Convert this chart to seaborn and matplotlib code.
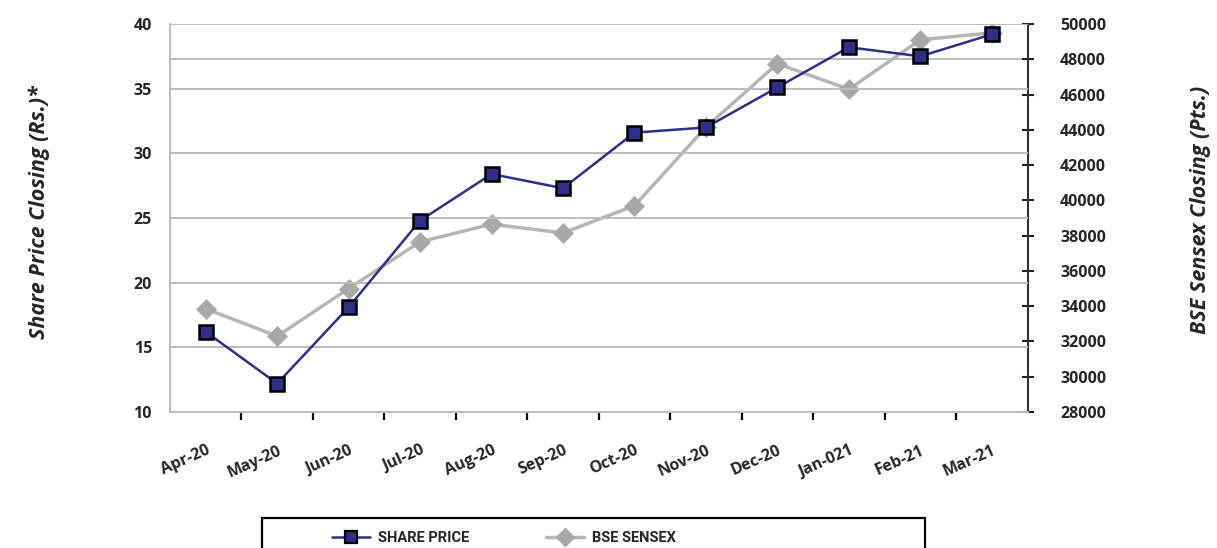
import numpy as np
import pandas as pd
import matplotlib
matplotlib.use("Agg")
import matplotlib.pyplot as plt
from matplotlib.patches import Rectangle
from matplotlib.lines import Line2D
import seaborn as sns

# data
months = ["Apr-20", "May-20", "Jun-20", "Jul-20", "Aug-20", "Sep-20",
          "Oct-20", "Nov-20", "Dec-20", "Jan-021", "Feb-21", "Mar-21"]
share_price = [16.2, 12.2, 18.1, 24.8, 28.4, 27.3, 31.6, 32.0, 35.1, 38.2, 37.5, 39.2]
bse_sensex = [33850, 32300, 35000, 37650, 38650, 38150, 39700, 44150, 47750, 46300, 49100, 49500]
left_ticks = [10, 15, 20, 25, 30, 35, 40]
right_ticks = list(range(28000, 50001, 2000))

df = pd.DataFrame({"pos": np.arange(len(months)), "month": months,
                   "share": share_price, "sensex": bse_sensex})

navy = "#2e3087"
grey = "#a8a8a8"
gridc = "#bdbdbd"

sns.set_theme(style="white")
plt.rcParams["font.family"] = ["Open Sans", "DejaVu Sans"]

fig = plt.figure(figsize=(12.17, 5.48), dpi=100)
ax = fig.add_axes([170 / 1217, 1 - 412 / 548, 857.5 / 1217, 388 / 548])
ax2 = ax.twinx()

# sensex on the right axis, drawn below the share price
sns.lineplot(data=df, x="pos", y="sensex", ax=ax2, color="#b5b5b5", lw=2.5,
             marker="D", markersize=10, markerfacecolor=grey, markeredgecolor=grey,
             markeredgewidth=0.5, sort=False)
ax2.axhline(48000, color=gridc, lw=1.4, zorder=0)

sns.lineplot(data=df, x="pos", y="share", ax=ax, color=navy, lw=1.8,
             marker="s", markersize=10.5, markerfacecolor=navy, markeredgecolor="black",
             markeredgewidth=1.8, sort=False, zorder=5)

ax.set_zorder(ax2.get_zorder() + 1)
ax.patch.set_visible(False)

ax.set_xlim(-0.5, len(months) - 0.5)
ax.set_ylim(10, 40)
ax.set_yticks(left_ticks)
ax.set_xticks(df["pos"])
ax.set_xticklabels(months, rotation=24, ha="right", rotation_mode="anchor",
                   fontsize=11.5, fontweight="bold")
ax.set_xticks(np.arange(0.5, len(months) - 1), minor=True)
ax.tick_params(axis="x", which="major", length=0, pad=22)
ax.tick_params(axis="x", which="minor", length=6, width=1.6, color="black", direction="out", bottom=True)
ax.tick_params(axis="y", length=0, pad=13, labelsize=11.5)
for t in ax.get_yticklabels():
    t.set_fontweight("bold")
ax.yaxis.grid(True, color=gridc, lw=1.4)
ax.xaxis.grid(False)
ax.set_xlabel("")
ax.set_ylabel("Share Price Closing (Rs.)*", fontsize=15.5, fontweight="bold",
              fontstyle="italic", labelpad=60, y=0.515)

for s in ["top", "right"]:
    ax.spines[s].set_visible(False)
for s in ["left", "bottom"]:
    ax.spines[s].set_color(gridc)
    ax.spines[s].set_linewidth(1.4)

ax2.set_ylim(28000, 50000)
ax2.set_yticks(right_ticks)
ax2.tick_params(axis="y", right=True, direction="inout", length=9, width=1.5,
                color="#222222", pad=19, labelsize=11.5)
for t in ax2.get_yticklabels():
    t.set_fontweight("bold")
ax2.grid(False)
for s in ["top", "left", "bottom"]:
    ax2.spines[s].set_visible(False)
ax2.spines["right"].set_color("#333333")
ax2.spines["right"].set_linewidth(1.5)
ax2.set_ylabel("BSE Sensex Closing (Pts.)", fontsize=15.5, fontweight="bold",
               fontstyle="italic", labelpad=60, y=0.52)

# legend, box runs off the bottom of the figure
fig.patches.append(Rectangle((262 / 1217, -0.05), 663 / 1217, 0.05 + 30 / 548,
                             transform=fig.transFigure, fill=False,
                             edgecolor="black", lw=1.6))
handles = [Line2D([], [], color=navy, lw=1.8, marker="s", markersize=9,
                  markerfacecolor=navy, markeredgecolor="black", markeredgewidth=1.6),
           Line2D([], [], color="#b5b5b5", lw=2.5, marker="D", markersize=9,
                  markerfacecolor=grey, markeredgecolor=grey)]
fig.legend(handles, ["SHARE PRICE", "BSE SENSEX"], loc="upper left",
           bbox_to_anchor=(326 / 1217, 1 - 525 / 548), ncol=2, frameon=False,
           prop={"family": "Roboto", "weight": "bold", "size": 10.5},
           handlelength=2.65, handletextpad=0.55, columnspacing=5.2,
           borderaxespad=0)

fig.savefig("out.png", dpi=100)
